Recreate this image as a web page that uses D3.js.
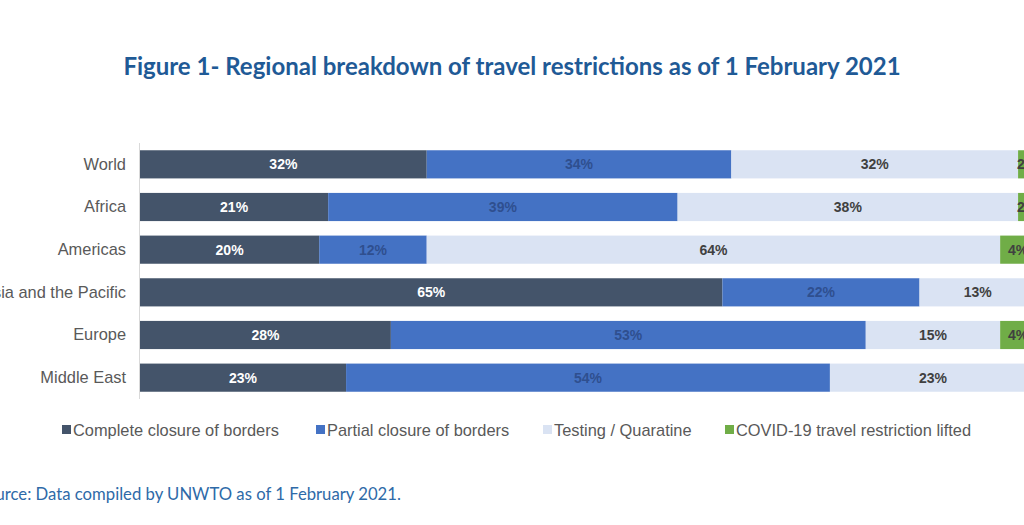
<!DOCTYPE html>
<html><head><meta charset="utf-8">
<script src="https://cdn.jsdelivr.net/npm/d3@7"></script>
<style>body{margin:0;background:#fff;overflow:hidden}svg{display:block}</style>
</head><body>
<svg id="c" width="1024" height="525"></svg>
<script>
const categories = ["World","Africa","Americas","Asia and the Pacific","Europe","Middle East"];
const seriesNames = ["Complete closure of borders","Partial closure of borders","Testing / Quaratine","COVID-19 travel restriction lifted"];
const completeClosure = [32,21,20,65,28,23];
const partialClosure = [34,39,12,22,53,54];
const testingQuarantine = [32,38,64,13,15,23];
const restrictionLifted = [2,2,4,0,4,0];
const titleText = "Figure 1- Regional breakdown of travel restrictions as of 1 February 2021";
const sourceText = "Source: Data compiled by UNWTO as of 1 February 2021.";

const colors = ["#44546a","#4472c4","#dae3f3","#70ad47"];
const labelColors = ["#ffffff","#2f4f8f","#404040","#404040"];

const svg = d3.select("#c");
const x = d3.scaleLinear().domain([0,100]).range([140,1036]);
const y = d3.scaleBand().domain(categories).range([143,399]).paddingInner(0.34).paddingOuter(0.17);

const stackData = categories.map((c,i)=>({cat:c, s0:completeClosure[i], s1:partialClosure[i], s2:testingQuarantine[i], s3:restrictionLifted[i]}));
const stack = d3.stack().keys(["s0","s1","s2","s3"])(stackData);

svg.append("text").attr("x",512).attr("y",75).attr("text-anchor","middle")
  .attr("font-family","Lato, 'Open Sans', sans-serif").attr("font-weight",700).attr("font-size",24)
  .attr("fill","#1f5a96").text(titleText);

// axis line
svg.append("line").attr("x1",139.5).attr("x2",139.5).attr("y1",143).attr("y2",399).attr("stroke","#d9d9d9");

stack.forEach((layer,k)=>{
  const g = svg.append("g");
  g.selectAll("rect").data(layer).join("rect")
    .attr("x",d=>x(d[0])).attr("width",d=>x(d[1])-x(d[0]))
    .attr("y",d=>y(d.data.cat)).attr("height",y.bandwidth())
    .attr("fill",colors[k]);
  g.selectAll("text").data(layer.filter(d=>d[1]-d[0]>0)).join("text")
    .attr("x",d=>(x(d[0])+x(d[1]))/2).attr("y",d=>y(d.data.cat)+y.bandwidth()/2+5)
    .attr("text-anchor","middle").attr("font-family","Liberation Sans, Arial, sans-serif")
    .attr("font-weight",700).attr("font-size",14).attr("fill",labelColors[k])
    .text(d=>(d[1]-d[0])+"%");
});

const yAxis = svg.append("g").attr("transform","translate(139,0)")
  .call(d3.axisLeft(y).tickSize(0).tickPadding(13));
yAxis.select(".domain").remove();
yAxis.selectAll("text").attr("font-family","Liberation Sans, Arial, sans-serif").attr("font-size",16.4).attr("fill","#595959");

const legendX = [62,316,543,725];
const lg = svg.append("g");
seriesNames.forEach((n,i)=>{
  lg.append("rect").attr("x",legendX[i]).attr("y",425).attr("width",9).attr("height",9).attr("fill",colors[i]);
  lg.append("text").attr("x",legendX[i]+11).attr("y",436).attr("font-family","Liberation Sans, Arial, sans-serif")
    .attr("font-size",16.4).attr("fill","#595959").text(n);
});

svg.append("text").attr("x",-23).attr("y",500).attr("font-family","Lato, 'Open Sans', sans-serif")
  .attr("font-size",16.7).attr("fill","#2e6aa8").text(sourceText);
</script>
</body></html>
